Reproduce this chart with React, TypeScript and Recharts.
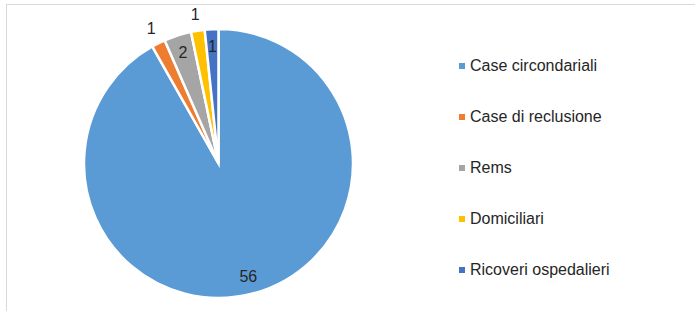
import { PieChart, Pie, Cell } from 'recharts'

const categories = [
  'Case circondariali',
  'Case di reclusione',
  'Rems',
  'Domiciliari',
  'Ricoveri ospedalieri',
]
const values = [56, 1, 2, 1, 1]
const colors = ['#5B9BD5', '#ED7D31', '#A5A5A5', '#FFC000', '#4472C4']
// label placement like Excel "best fit": inside for wide slices, outside for thin ones
const labelInside = [true, false, true, false, true]

const data = categories.map((name, i) => ({ name, value: values[i] }))

const RADIAN = Math.PI / 180

function renderLabel(props: any) {
  const { cx, cy, midAngle, outerRadius, index, value } = props
  const r = labelInside[index] ? outerRadius * 0.87 : outerRadius * 1.12
  const x = cx + r * Math.cos(-midAngle * RADIAN)
  const y = cy + r * Math.sin(-midAngle * RADIAN)
  return (
    <text
      x={x}
      y={y}
      fill="#262626"
      fontSize={16}
      fontFamily="'Liberation Sans', Arial, sans-serif"
      textAnchor="middle"
      dominantBaseline="central"
    >
      {value}
    </text>
  )
}

function LegendBox() {
  return (
    <div
      style={{
        position: 'absolute',
        left: 459,
        top: 54,
        fontFamily: "'Liberation Sans', Arial, sans-serif",
        fontSize: 16,
        color: '#262626',
      }}
    >
      {categories.map((c, i) => (
        <div
          key={c}
          style={{ display: 'flex', alignItems: 'center', height: 24, marginBottom: 27 }}
        >
          <span
            style={{
              width: 6,
              height: 6,
              background: colors[i],
              marginRight: 5,
              display: 'inline-block',
            }}
          />
          <span>{c}</span>
        </div>
      ))}
    </div>
  )
}

export default function App() {
  return (
    <div
      style={{
        position: 'absolute',
        left: 0,
        top: 0,
        width: 695,
        height: 311,
        overflow: 'hidden',
        background: '#fff',
      }}
    >
      <div
        style={{
          position: 'absolute',
          left: 6,
          top: 4,
          width: 800,
          height: 400,
          border: '1.5px solid #D9D9D9',
          boxSizing: 'border-box',
        }}
      />
      <div style={{ position: 'absolute', left: 0, top: 0 }}>
        <PieChart width={695} height={311} margin={{ top: 0, right: 0, bottom: 0, left: 0 }}>
          <Pie
            data={data}
            dataKey="value"
            nameKey="name"
            cx={218.5}
            cy={163.5}
            outerRadius={134.5}
            startAngle={90}
            endAngle={-270}
            stroke="#fff"
            strokeWidth={2.5}
            label={renderLabel}
            labelLine={false}
            isAnimationActive={false}
          >
            {data.map((d, i) => (
              <Cell key={d.name} fill={colors[i]} />
            ))}
          </Pie>
        </PieChart>
      </div>
      <LegendBox />
    </div>
  )
}
